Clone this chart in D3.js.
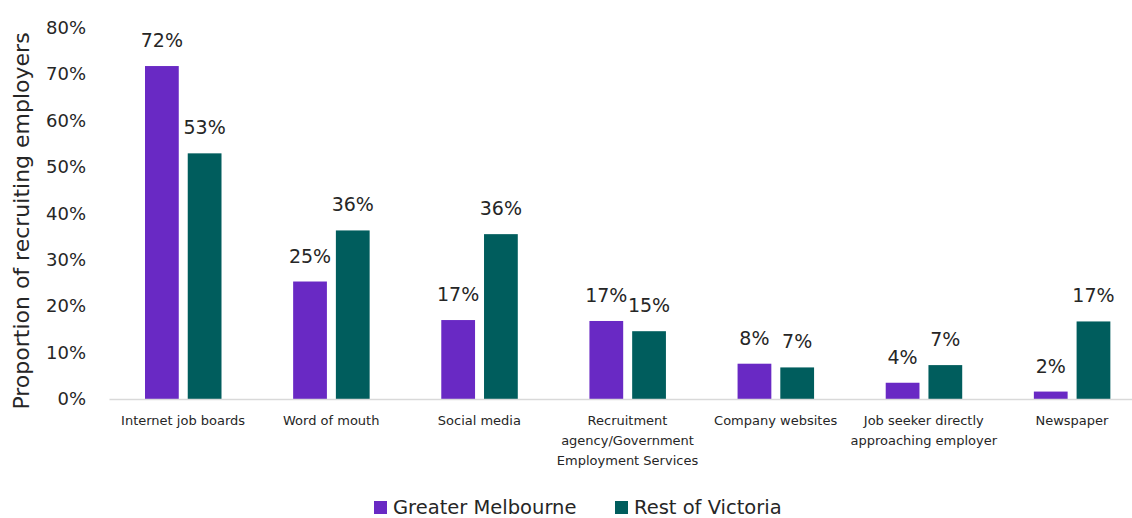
<!DOCTYPE html>
<html lang="en">
<head>
  <meta charset="UTF-8">
  <title>Recruitment methods by region</title>
  <script src="https://d3js.org/d3.v7.min.js"></script>
  <style>
    body { margin: 0; background: #fff; }
    text { font-family: "DejaVu Sans", sans-serif; fill: #262626; }
    .bar-label { font-size: 19px; }
    .y-axis text { font-size: 18px; }
    .x-axis text { font-size: 13px; }
    .legend text { font-size: 19.5px; }
  </style>
</head>
<body>
<div id="chart"></div>
<script>
// data
var categories = [
  "Internet job boards",
  "Word of mouth",
  "Social media",
  "Recruitment\nagency/Government\nEmployment Services",
  "Company websites",
  "Job seeker directly\napproaching employer",
  "Newspaper"
];
var seriesNames = ["Greater Melbourne", "Rest of Victoria"];
var greaterMelbourne = [71.7, 25.3, 17.0, 16.8, 7.6, 3.5, 1.6];
var restOfVictoria   = [52.9, 36.3, 35.5, 14.6, 6.8, 7.3, 16.7];
var yTicks = [0, 10, 20, 30, 40, 50, 60, 70, 80];
var colors = ["#6929c4", "#005d5d"];

var width = 1132, height = 518;

var svg = d3.select("#chart")
  .append("svg")
    .attr("width", width)
    .attr("height", height);

var table = categories.map(function(c, i) {
  return { cat: c, values: [greaterMelbourne[i], restOfVictoria[i]] };
});

// scales
var x0 = d3.scaleBand()
  .domain(categories)
  .range([109, 1146]);

var x1 = d3.scaleBand()
  .domain(seriesNames)
  .range([36, 112.5])
  .paddingInner(0.21);

var y = d3.scaleLinear()
  .domain([0, 80])
  .range([399, 27.5]);

// y axis (no line, no ticks)
var yAxis = svg.append("g")
  .attr("class", "y-axis")
  .attr("transform", "translate(109,0)")
  .call(d3.axisLeft(y).tickValues(yTicks).tickSize(0).tickPadding(23)
        .tickFormat(function(d) { return d + "%"; }));
yAxis.select(".domain").remove();
yAxis.selectAll("text").attr("fill", "#262626");

// y title
svg.append("text")
  .attr("transform", "translate(29,221) rotate(-90)")
  .attr("text-anchor", "middle")
  .style("font-size", "22px")
  .text("Proportion of recruiting employers");

// bars
var groups = svg.selectAll(".group")
  .data(table)
  .enter().append("g")
    .attr("class", "group")
    .attr("transform", function(d) { return "translate(" + x0(d.cat) + ",0)"; });

groups.selectAll("rect")
  .data(function(d) { return d.values.map(function(v, j) { return { key: seriesNames[j], v: v, j: j }; }); })
  .enter().append("rect")
    .attr("x", function(d) { return x1(d.key); })
    .attr("y", function(d) { return y(d.v); })
    .attr("width", x1.bandwidth())
    .attr("height", function(d) { return y(0) - y(d.v); })
    .attr("fill", function(d) { return colors[d.j]; });

groups.selectAll(".bar-label")
  .data(function(d) { return d.values.map(function(v, j) { return { key: seriesNames[j], v: v }; }); })
  .enter().append("text")
    .attr("class", "bar-label")
    .attr("text-anchor", "middle")
    .attr("x", function(d) { return x1(d.key) + x1.bandwidth() / 2; })
    .attr("y", function(d) { return y(d.v) - 19; })
    .text(function(d) { return Math.round(d.v) + "%"; });

// x axis
var xAxis = svg.append("g")
  .attr("class", "x-axis")
  .attr("transform", "translate(0,399)")
  .call(d3.axisBottom(x0).tickSize(0));
xAxis.select(".domain")
  .attr("stroke", "#d9d9d9")
  .attr("stroke-width", 1.5);

xAxis.selectAll(".tick text").each(function(d) {
  var t = d3.select(this);
  var lines = d.split("\n");
  t.text(null).attr("y", 26).attr("dy", null).attr("fill", "#262626");
  lines.forEach(function(line, k) {
    t.append("tspan")
      .attr("x", 0)
      .attr("dy", k === 0 ? 0 : 20)
      .text(line);
  });
});

// legend
var legendX = [374, 615];
var legend = svg.append("g").attr("class", "legend");
seriesNames.forEach(function(name, i) {
  legend.append("rect")
    .attr("x", legendX[i])
    .attr("y", 501)
    .attr("width", 13)
    .attr("height", 13)
    .attr("fill", colors[i]);
  legend.append("text")
    .attr("x", legendX[i] + 19)
    .attr("y", 514)
    .text(name);
});
</script>
</body>
</html>
